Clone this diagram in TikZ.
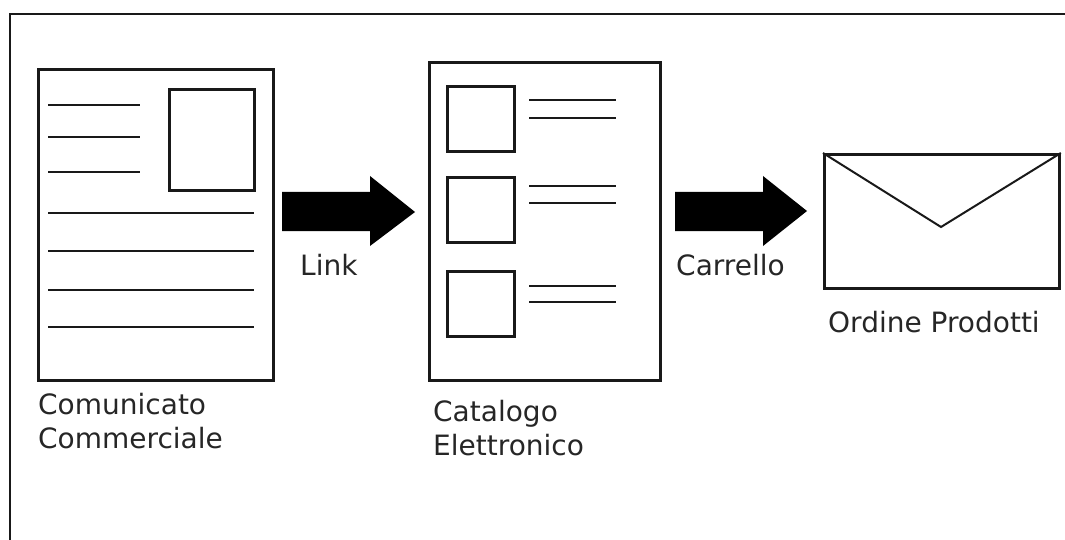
\documentclass[tikz,border=0pt]{standalone}
\usepackage{fontspec}
\setmainfont{DejaVu Sans}
\begin{document}
\begin{tikzpicture}[x=1pt,y=-1pt,
  frame/.style={draw=black!90, line width=2.8pt},
  boxnode/.style={frame, inner sep=0pt, anchor=north west},
  stroke/.style={draw=black!90, line width=2.8pt},
  lbl/.style={font=\fontsize{28}{34}\selectfont, text=black!85, inner sep=0pt, align=left},
  blockarrow/.style={fill=black, draw=none}]
\useasboundingbox (0,0) rectangle (1065,540);
% outer frame
\draw[frame] (10,545) -- (10,14) -- (1070,14);

% Comunicato Commerciale
\node[boxnode, minimum width=235pt, minimum height=311pt] (doc1) at (37,68) {};
\node[boxnode, minimum width=85pt, minimum height=101pt] (pic1) at (168,88) {};
\foreach \y in {105,137,172} \draw[stroke] (48,\y) -- (140,\y);
\foreach \y in {213,251,290,327} \draw[stroke] (48,\y) -- (254,\y);
\node[lbl, anchor=base west] (l1) at (38,448) {Comunicato\\Commerciale};

% arrow Link
\fill[blockarrow] (282,192) -- (370,192) -- (370,176) -- (415,212) -- (370,246) -- (370,231) -- (282,231) -- cycle;
\node[lbl, anchor=base west] (link) at (300,275) {Link};

% Catalogo Elettronico
\node[boxnode, minimum width=231pt, minimum height=318pt] (doc2) at (428,61) {};
\foreach \t/\a/\b/\n in {85/100/118/1,176/186/203/2,270/286/302/3}{
  \node[boxnode, minimum width=67pt, minimum height=65pt] (sq\n) at (446,\t) {};
  \draw[stroke] (529,\a) -- (616,\a);
  \draw[stroke] (529,\b) -- (616,\b);
}
\node[lbl, anchor=base west] (l2) at (433,455) {Catalogo\\Elettronico};

% arrow Carrello
\fill[blockarrow] (675,192) -- (763,192) -- (763,176) -- (807,211) -- (763,246) -- (763,231) -- (675,231) -- cycle;
\node[lbl, anchor=base west] (carrello) at (676,275) {Carrello};

% Ordine Prodotti
\node[boxnode, minimum width=235pt, minimum height=134pt] (env) at (823,153) {};
\draw[stroke, line width=2pt] (env.north west) -- (941,227) -- (env.north east);
\node[lbl, anchor=base west] (l3) at (828,332) {Ordine Prodotti};
\end{tikzpicture}
\end{document}
